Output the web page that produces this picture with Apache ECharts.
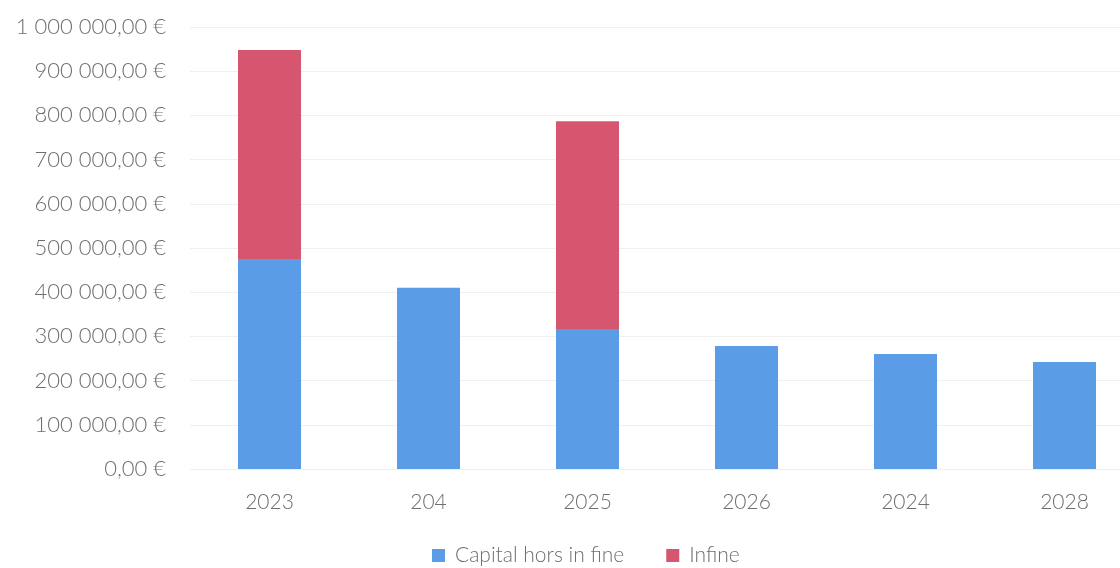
<!DOCTYPE html>
<html>
<head>
<meta charset="utf-8">
<script src="https://cdn.jsdelivr.net/npm/echarts@6/dist/echarts.min.js"></script>
<style>
  html, body { margin: 0; padding: 0; background: #ffffff; overflow: hidden; }
  #chart { width: 1150px; height: 568px; }
</style>
</head>
<body>
<div id="chart"></div>
<script>
// Échéancier de remboursement par année
const categories = ['2023', '204', '2025', '2026', '2024', '2028'];
const capitalHorsInFine = [475000, 410000, 317000, 278000, 260000, 242000];
const inFine = [473000, 0, 470000, 0, 0, 0];
const seriesNames = ['Capital hors in fine', 'Infine'];

// Format français : espaces pour les milliers, virgule décimale, symbole euro
function euro(v) {
  const parts = Number(v).toFixed(2).split('.');
  const ent = parts[0].replace(/\B(?=(\d{3})+(?!\d))/g, ' ');
  return ent + ',' + parts[1] + ' €';
}

const FONT = 'Lato, "Open Sans", sans-serif';
const TEXT = '#6e6e6e';
const chart = echarts.init(document.getElementById('chart'));
chart.setOption({
  animation: false,
  backgroundColor: '#ffffff',
  grid: { left: 190, top: 27, width: 954, height: 442, containLabel: false },
  legend: {
    data: seriesNames,
    top: 545,
    left: 432,
    padding: 0,
    itemWidth: 13,
    itemHeight: 13,
    itemGap: 42,
    icon: 'rect',
    textStyle: { color: TEXT, fontSize: 21, fontFamily: FONT, fontWeight: 300, padding: [0, 0, 0, 5] }
  },
  xAxis: {
    type: 'category',
    data: categories,
    axisLine: { show: false },
    axisTick: { show: false },
    axisLabel: { color: TEXT, fontSize: 21, fontFamily: FONT, fontWeight: 300, margin: 23 }
  },
  yAxis: {
    type: 'value',
    min: 0,
    max: 1000000,
    interval: 100000,
    axisLine: { show: false },
    axisTick: { show: false },
    splitLine: { lineStyle: { color: '#f0f0f0', width: 1 } },
    axisLabel: { color: TEXT, fontSize: 22, fontFamily: FONT, fontWeight: 300, margin: 24, formatter: euro }
  },
  series: [
    {
      name: seriesNames[0],
      type: 'bar',
      stack: 'total',
      barWidth: 63,
      data: capitalHorsInFine,
      itemStyle: { color: '#5a9de6' }
    },
    {
      name: seriesNames[1],
      type: 'bar',
      stack: 'total',
      barWidth: 63,
      data: inFine,
      itemStyle: { color: '#d6566f' }
    }
  ]
});
</script>
</body>
</html>
